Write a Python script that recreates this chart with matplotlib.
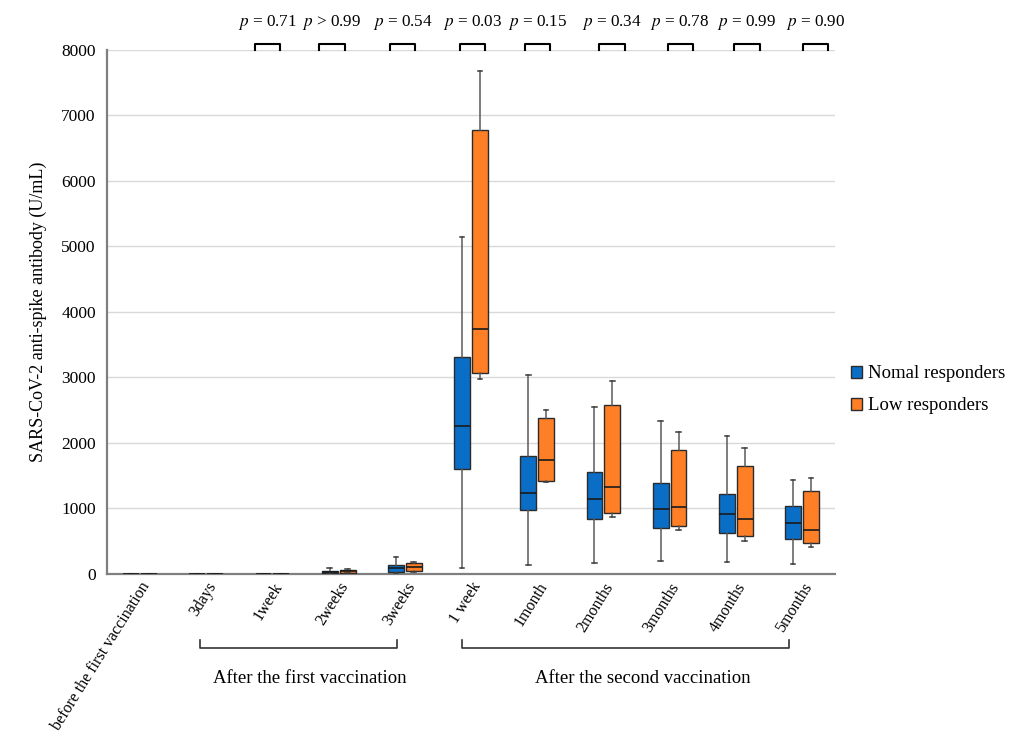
import numpy as np
import matplotlib
matplotlib.use("Agg")
import matplotlib.pyplot as plt
from matplotlib.patches import Patch
from matplotlib.lines import Line2D
import matplotlib.transforms as mtransforms

plt.rcParams['font.family'] = ['Liberation Serif', 'DejaVu Serif']
plt.rcParams['mathtext.fontset'] = 'stix'

categories = ["before the first vaccination", "3days", "1week", "2weeks", "3weeks",
              "1 week", "1month", "2months", "3months", "4months", "5months"]

# box stats per category: whisker low, q1, median, q3, whisker high
normal_lo  = [0, 0, 0, 2, 8, 87, 137, 173, 198, 178, 148]
normal_q1  = [0, 0, 0, 8, 31, 1598, 977, 844, 707, 621, 530]
normal_med = [1, 1, 1, 28, 87, 2260, 1232, 1140, 988, 916, 783]
normal_q3  = [2, 2, 3, 50, 142, 3308, 1806, 1557, 1385, 1216, 1038]
normal_hi  = [4, 4, 6, 97, 260, 5150, 3033, 2545, 2336, 2102, 1435]

low_lo  = [0, 0, 0, 8, 30, 2972, 1409, 866, 667, 499, 417]
low_q1  = [0, 0, 0, 10, 41, 3064, 1424, 936, 738, 585, 473]
low_med = [1, 1, 1, 41, 112, 3736, 1745, 1323, 1018, 835, 667]
low_q3  = [2, 2, 3, 66, 173, 6779, 2377, 2585, 1898, 1654, 1272]
low_hi  = [4, 4, 6, 81, 183, 7675, 2504, 2951, 2168, 1929, 1471]

p_labels = ["= 0.71", "> 0.99", "= 0.54", "= 0.03", "= 0.15", "= 0.34", "= 0.78", "= 0.99", "= 0.90"]
p_pos = [1.92, 2.90, 3.97, 5.02, 6.01, 7.13, 8.16, 9.17, 10.21]

groups = ["After the first vaccination", "After the second vaccination"]
group_span = [(0.905, 3.88), (4.86, 9.81)]
group_text_x = [2.57, 7.60]

blue = "#0A6EC6"
orange = "#FF7F27"


def make_stats(lo, q1, med, q3, hi):
    return [dict(whislo=a, q1=b, med=c, q3=d, whishi=e, fliers=[])
            for a, b, c, d, e in zip(lo, q1, med, q3, hi)]


fig = plt.figure(figsize=(10.15, 7.37), dpi=100)
ax = fig.add_axes([0.1054, 0.2212, 0.7173, 0.711])

x = np.arange(len(categories))
off = 0.135
w = 0.24
for stats, pos, col in [(make_stats(normal_lo, normal_q1, normal_med, normal_q3, normal_hi), x - off, blue),
                        (make_stats(low_lo, low_q1, low_med, low_q3, low_hi), x + off, orange)]:
    ax.bxp(stats, positions=pos, widths=w, patch_artist=True, showfliers=False,
           capwidths=0.07,
           boxprops=dict(facecolor=col, edgecolor="#2b2b2b", linewidth=1.0),
           medianprops=dict(color="#1a1a1a", linewidth=1.2),
           whiskerprops=dict(color="#5a5a5a", linewidth=1.1),
           capprops=dict(color="#3a3a3a", linewidth=1.1),
           zorder=3)

ax.set_xlim(-0.5, len(categories) - 0.5)
ax.set_ylim(0, 8000)
ax.set_yticks(np.arange(0, 8001, 1000))
ax.yaxis.grid(True, color="#d9d9d9", linewidth=1.0, zorder=0)
ax.set_axisbelow(True)
for s in ["top", "right"]:
    ax.spines[s].set_visible(False)
for s in ["left", "bottom"]:
    ax.spines[s].set_color("#7f7f7f")
    ax.spines[s].set_linewidth(1.6)
ax.tick_params(length=0, labelsize=12.5, pad=8)
ax.tick_params(axis="x", pad=4)
ax.set_xticks(x)
ax.set_xticklabels(categories, rotation=58, ha="right", va="top",
                   rotation_mode="anchor", fontsize=11.5)
ax.set_ylabel("SARS-CoV-2 anti-spike antibody (U/mL)", fontsize=13, labelpad=10)

# p-value brackets on top
bw = 0.19
for px, lab in zip(p_pos, p_labels):
    ax.plot([px - bw, px - bw, px + bw, px + bw], [8000, 8095, 8095, 8000],
            color="black", linewidth=1.5, clip_on=False, zorder=4)
    ax.text(px, 8420, r"$p$ " + lab, ha="center", va="center", fontsize=12.3, clip_on=False)

# group brackets below the axis
trans = mtransforms.blended_transform_factory(ax.transData, ax.transAxes)
for (x0, x1), tx, lab in zip(group_span, group_text_x, groups):
    ax.add_line(Line2D([x0, x0, x1, x1], [-0.126, -0.141, -0.141, -0.126],
                       transform=trans, color="#333333", linewidth=1.2, clip_on=False))
    ax.text(tx, -0.200, lab, transform=trans, ha="center", va="center", fontsize=13.5)

handles = [Patch(facecolor=blue, edgecolor="#2b2b2b", label="Nomal responders"),
           Patch(facecolor=orange, edgecolor="#2b2b2b", label="Low responders")]
fig.legend(handles=handles, loc="center left", bbox_to_anchor=(0.822, 0.471),
           frameon=False, fontsize=13.5, handlelength=0.6, handleheight=0.6,
           handletextpad=0.3, labelspacing=0.8)

fig.savefig("out.png", dpi=100)
